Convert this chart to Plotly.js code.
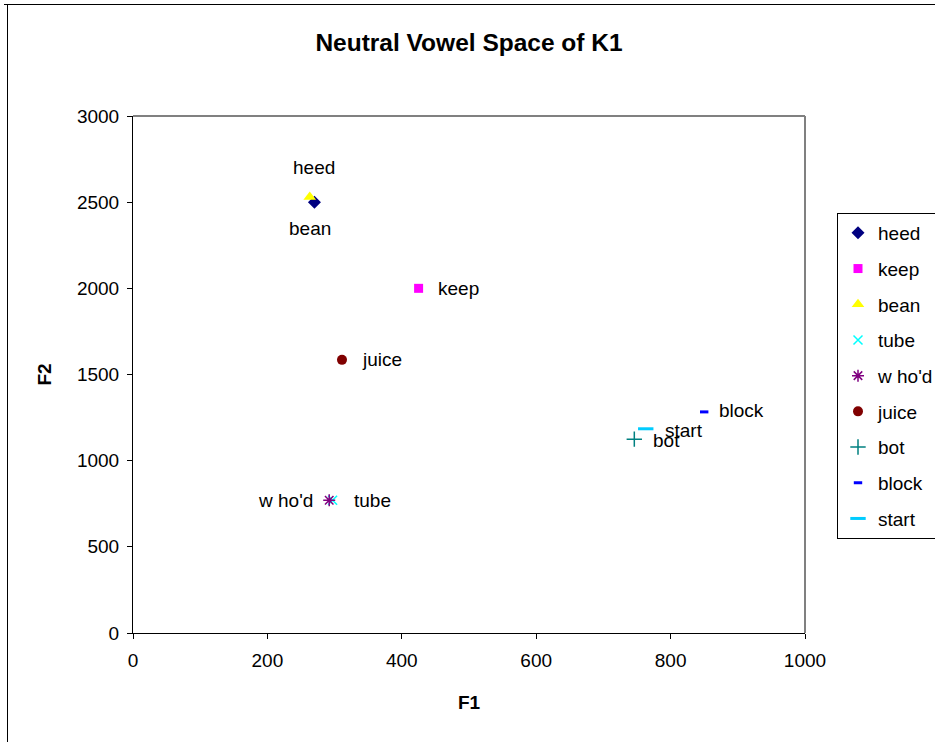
<!DOCTYPE html>
<html>
<head>
<meta charset="utf-8">
<script src="https://cdn.plot.ly/plotly-3.0.1.min.js"></script>
<style>
html,body{margin:0;padding:0;background:#fff;}
#chart{width:935px;height:742px;}
</style>
</head>
<body>
<div id="chart"></div>
<script>
// ---- data ----
const seriesNames = ["heed", "keep", "bean", "tube", "w ho'd", "juice", "bot", "block", "start"];
const f1Values = [270, 425, 263, 297, 292, 311, 746, 850, 763];
const f2Values = [2500, 2000, 2530, 770, 770, 1585, 1125, 1283, 1185];
const labelTexts = ["heed", "keep", "bean", "tube", "w ho'd", "juice", "bot", "block", "start"];
const xTickVals = [0, 200, 400, 600, 800, 1000];
const yTickVals = [0, 500, 1000, 1500, 2000, 2500, 3000];

// ---- styles ----
const markerStyles = [
  {symbol: "diamond", size: 10, color: "#000080"},
  {symbol: "square", size: 9, color: "#FF00FF"},
  {symbol: "triangle-up", size: 11, color: "#FFFF00"},
  {symbol: "x-thin-open", size: 9, color: "#00FFFF", line: {color: "#00FFFF", width: 1.5}},
  {symbol: "asterisk-open", size: 10, color: "#800080", line: {color: "#800080", width: 1.5}},
  {symbol: "circle", size: 10, color: "#800000"},
  {symbol: "cross-thin-open", size: 11, color: "#008080", line: {color: "#008080", width: 1.5}},
  {symbol: "line-ew-open", size: 6, color: "#0000FF", line: {color: "#0000FF", width: 3}},
  {symbol: "line-ew-open", size: 11, color: "#00CCFF", line: {color: "#00CCFF", width: 3}}
];
// label placement: [xshift, yshift, xanchor]
const labelPlacement = [
  [0, 35, "center"],
  [17, 0, "left"],
  [0, -31, "center"],
  [19, 0, "left"],
  [-14, 0, "right"],
  [18, 0, "left"],
  [17, -1, "left"],
  [13, 1, "left"],
  [17, -2, "left"]
];

const FONT = "Liberation Sans, Arial, sans-serif";
const FS = 19;

const traces = seriesNames.map((name, i) => ({
  type: "scatter",
  mode: "markers",
  name: name,
  x: [f1Values[i]],
  y: [f2Values[i]],
  legendgroup: "g" + i,
  marker: markerStyles[i],
  hoverinfo: "name+x+y"
}));

const annotations = labelTexts.map((t, i) => ({
  x: f1Values[i], y: f2Values[i], xref: "x", yref: "y",
  text: t, showarrow: false,
  xanchor: labelPlacement[i][2], yanchor: "middle",
  xshift: labelPlacement[i][0], yshift: labelPlacement[i][1],
  font: {family: FONT, size: FS, color: "#000"}
}));

const layout = {
  width: 935, height: 742,
  paper_bgcolor: "#fff", plot_bgcolor: "#fff",
  margin: {l: 133, r: 130, t: 116, b: 109, autoexpand: false},
  font: {family: FONT, size: FS, color: "#000"},
  title: {text: "<b>Neutral Vowel Space of K1</b>", font: {family: FONT, size: 24.5, color: "#000"},
          x: 0.5, xref: "paper", y: 1 - 42/742, yanchor: "middle"},
  xaxis: {
    range: [0, 1000], tickvals: xTickVals, ticks: "outside", ticklen: 5, tickcolor: "#000",
    showgrid: false, zeroline: false, showline: true, linecolor: "#000", linewidth: 1,
    tickfont: {family: FONT, size: FS}, ticklabelstandoff: 5,
    title: {text: "<b>F1</b>", font: {family: FONT, size: FS}, standoff: 25}
  },
  yaxis: {
    range: [0, 3000], tickvals: yTickVals, ticks: "outside", ticklen: 5, tickcolor: "#000",
    showgrid: false, zeroline: false, showline: true, linecolor: "#000", linewidth: 1,
    tickfont: {family: FONT, size: FS}, ticklabelstandoff: 4,
    title: {text: "<b>F2</b>", font: {family: FONT, size: FS}, standoff: 20}
  },
  showlegend: true,
  legend: {
    x: (837 - 133) / 672, y: (633 - 213) / 517, xanchor: "left", yanchor: "top",
    bordercolor: "#000", borderwidth: 1, bgcolor: "#fff",
    font: {family: FONT, size: FS},
    traceorder: "grouped", tracegroupgap: 8, itemwidth: 30
  },
  annotations: annotations,
  shapes: [
    {type: "line", xref: "paper", yref: "paper", x0: 0, x1: 1, y0: 1, y1: 1, line: {color: "#808080", width: 2}},
    {type: "line", xref: "paper", yref: "paper", x0: 1, x1: 1, y0: 0, y1: 1, line: {color: "#808080", width: 2}},
    {type: "line", xref: "paper", yref: "paper", x0: (4 - 133) / 672, x1: (940 - 133) / 672, y0: (633 - 4.5) / 517, y1: (633 - 4.5) / 517, line: {color: "#000", width: 1}},
    {type: "line", xref: "paper", yref: "paper", x0: (7.5 - 133) / 672, x1: (7.5 - 133) / 672, y0: (633 - 4) / 517, y1: (633 - 750) / 517, line: {color: "#000", width: 1}}
  ]
};

Plotly.newPlot("chart", traces, layout, {displayModeBar: false, staticPlot: true});
</script>
</body>
</html>
